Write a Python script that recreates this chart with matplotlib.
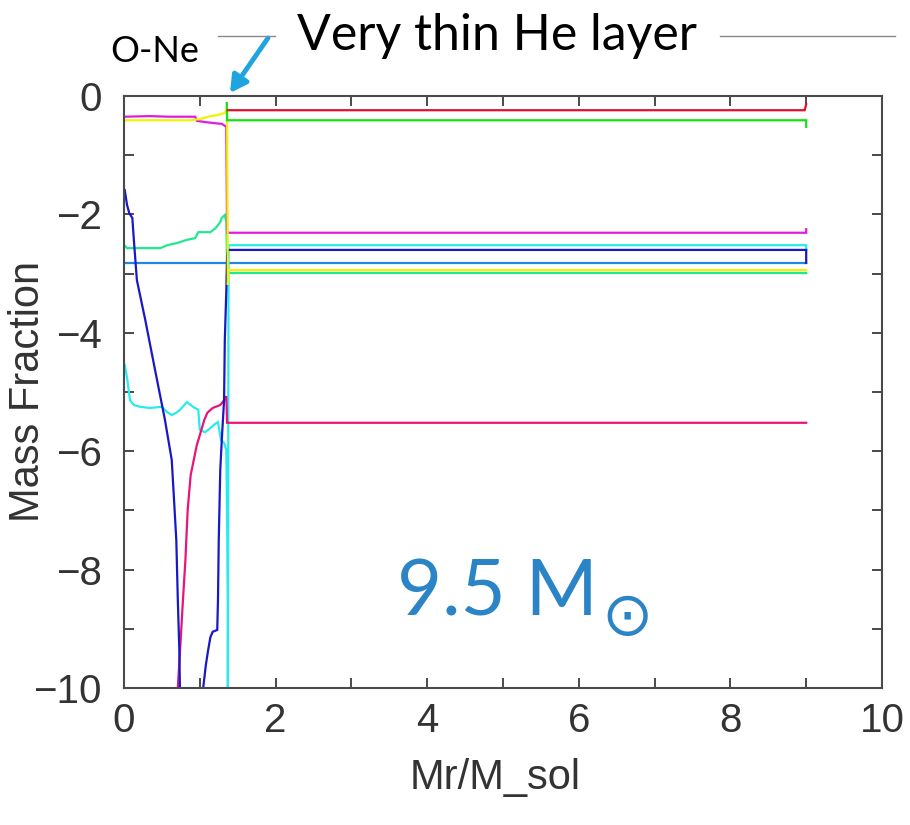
import matplotlib
matplotlib.use("Agg")
import matplotlib.pyplot as plt
from matplotlib.ticker import MultipleLocator

# Abundance profiles (log mass fraction) versus enclosed mass, 9.5 Msun model
blue_x = [0.01, 0.04, 0.07, 0.11, 0.13, 0.17, 0.28, 0.41, 0.54, 0.63, 0.66, 0.69,
          0.71, 0.73, 0.74, 0.87, 1.04, 1.08, 1.11, 1.14, 1.17, 1.23, 1.24, 1.25,
          1.27, 1.29, 1.32, 1.33, 1.35, 1.36, 1.37, 9.00, 9.00]
blue_y = [-1.59, -1.84, -1.98, -2.06, -2.43, -3.11, -3.78, -4.63, -5.47, -6.15, -6.82, -7.50,
          -8.51, -9.36, -10.2, -11.0, -10.05, -9.61, -9.36, -9.14, -9.05, -9.02, -8.51, -7.50,
          -6.32, -5.81, -5.14, -4.12, -3.28, -2.69, -2.60, -2.60, -2.82]

pink_x = [0.69, 0.71, 0.74, 0.77, 0.81, 0.84, 0.88, 0.92, 0.96, 1.00, 1.06, 1.10,
          1.17, 1.27, 1.32, 1.35, 1.36, 9.00]
pink_y = [-10.54, -10.0, -9.36, -8.68, -7.84, -6.99, -6.40, -6.15, -5.90, -5.73, -5.47, -5.35,
          -5.27, -5.22, -5.14, -5.07, -5.52, -5.52]

cyan_x = [0.01, 0.04, 0.08, 0.13, 0.21, 0.34, 0.50, 0.57, 0.63, 0.69, 0.74, 0.83,
          0.91, 0.98, 1.00, 1.07, 1.14, 1.20, 1.24, 1.28, 1.32, 1.35, 1.36, 1.37,
          1.37, 1.38, 9.00, 9.00]
cyan_y = [-4.54, -4.76, -5.14, -5.22, -5.25, -5.27, -5.25, -5.34, -5.39, -5.35, -5.30, -5.17,
          -5.25, -5.30, -5.64, -5.68, -5.61, -5.54, -5.51, -5.81, -5.86, -5.98, -7.16, -8.51,
          -10.0, -2.52, -2.52, -2.60]

lightblue_x = [0.0, 9.00]
lightblue_y = [-2.82, -2.82]

magenta_x = [0.0, 0.34, 0.61, 0.94, 0.96, 1.07, 1.20, 1.29, 1.35, 1.36, 1.37, 9.00, 9.00]
magenta_y = [-0.35, -0.34, -0.35, -0.35, -0.42, -0.44, -0.46, -0.47, -0.52, -2.31, -2.31, -2.31, -2.25]

yellow_x = [0.0, 0.87, 1.00, 1.14, 1.24, 1.32, 1.35, 1.36, 1.37, 1.38, 9.00]
yellow_y = [-0.41, -0.41, -0.39, -0.34, -0.32, -0.29, -0.25, -0.20, -3.19, -2.94, -2.94]

springgreen_x = [0.01, 0.04, 0.48, 0.57, 0.71, 0.83, 0.94, 0.98, 1.14, 1.21, 1.24, 1.27,
                 1.29, 1.33, 1.35, 1.36, 1.38, 9.00]
springgreen_y = [-2.53, -2.57, -2.57, -2.52, -2.48, -2.43, -2.40, -2.30, -2.30, -2.23, -2.18, -2.13,
                 -2.06, -2.01, -2.13, -2.80, -2.99, -2.99]

green_x = [1.355, 1.36, 9.00, 9.00]
green_y = [-0.12, -0.41, -0.41, -0.52]

red_x = [1.37, 8.98, 9.00]
red_y = [-0.24, -0.24, -0.14]

series = [
    (lightblue_x, lightblue_y, "#1e88e0"),
    (springgreen_x, springgreen_y, "#20e890"),
    (cyan_x, cyan_y, "#28ecec"),
    (pink_x, pink_y, "#e8147a"),
    (blue_x, blue_y, "#1818c8"),
    (magenta_x, magenta_y, "#dc1ee0"),
    (yellow_x, yellow_y, "#f2f200"),
    (green_x, green_y, "#14e014"),
    (red_x, red_y, "#e0102c"),
]

x_ticks = [0, 2, 4, 6, 8, 10]
y_ticks = [0, -2, -4, -6, -8, -10]

W, H = 910, 825
fig = plt.figure(figsize=(W / 100, H / 100), dpi=100)
ax = fig.add_axes([124 / W, 1 - 688 / H, (882 - 124) / W, (688 - 96) / H])

for xs, ys, c in series:
    ax.plot(xs, ys, color=c, lw=1.6, solid_joinstyle="miter")

ax.set_xlim(0, 10)
ax.set_ylim(-10, 0)
ax.set_xticks(x_ticks)
ax.set_yticks(y_ticks)
ax.xaxis.set_minor_locator(MultipleLocator(1))
ax.yaxis.set_minor_locator(MultipleLocator(1))

axis_col = "#4a4a4a"
label_family = ["Liberation Sans", "DejaVu Sans"]
for s in ax.spines.values():
    s.set_color(axis_col)
    s.set_linewidth(1.5)
ax.tick_params(which="both", direction="in", top=True, right=True,
               length=7, width=1.4, color=axis_col, labelcolor="#333333")
ax.tick_params(axis="x", pad=10)
ax.tick_params(axis="y", pad=16)
for lab in ax.get_xticklabels() + ax.get_yticklabels():
    lab.set_fontfamily(label_family)
    lab.set_fontsize(29)

ax.set_xlabel("Mr/M_sol", fontfamily=label_family,
              fontsize=30, color="#333333", va="center")
ax.set_ylabel("Mass Fraction", fontfamily=label_family,
              fontsize=30, color="#333333", va="center")
ax.xaxis.set_label_coords((495 - 124) / 758, (688 - 778) / 592)
ax.yaxis.set_label_coords((28 - 124) / 758, (688 - 391) / 592)

# Headline and annotations above the panel
callout = ["Lato", "DejaVu Sans"]
fig.text(497 / W, 1 - 50 / H, "Very thin He layer", ha="center", va="baseline",
         fontsize=36, family=callout, color="black")
fig.text(110 / W, 1 - 62 / H, "O-Ne", ha="left", va="baseline",
         fontsize=26, family=callout, color="black")
fig.add_artist(plt.Line2D([218 / W, 275 / W], [1 - 36 / H, 1 - 36 / H],
                          color="#8a8a8a", lw=1.0))
fig.add_artist(plt.Line2D([720 / W, 895 / W], [1 - 36 / H, 1 - 36 / H],
                          color="#8a8a8a", lw=1.0))
ax.annotate("", xy=(230 / W, 1 - 93 / H), xytext=(268 / W, 1 - 38 / H),
            xycoords="figure fraction", textcoords="figure fraction",
            arrowprops=dict(arrowstyle="-|>,head_length=1.0,head_width=0.55",
                            color="#1ea5e0", lw=3.5, shrinkA=0, shrinkB=0))

# Stellar mass tag; the solar symbol sits low beside the M
mass_col = "#2a84c6"
fig.text(397 / W, 1 - 615 / H, "9.5 M", ha="left", va="baseline",
         fontsize=56, family=callout, color=mass_col)
fig.text(601 / W, 1 - 619 / H, "\u2299", ha="left", va="center",
         fontsize=44, family=["DejaVu Sans"], color=mass_col)

fig.savefig("out.png", dpi=100, facecolor="white")
